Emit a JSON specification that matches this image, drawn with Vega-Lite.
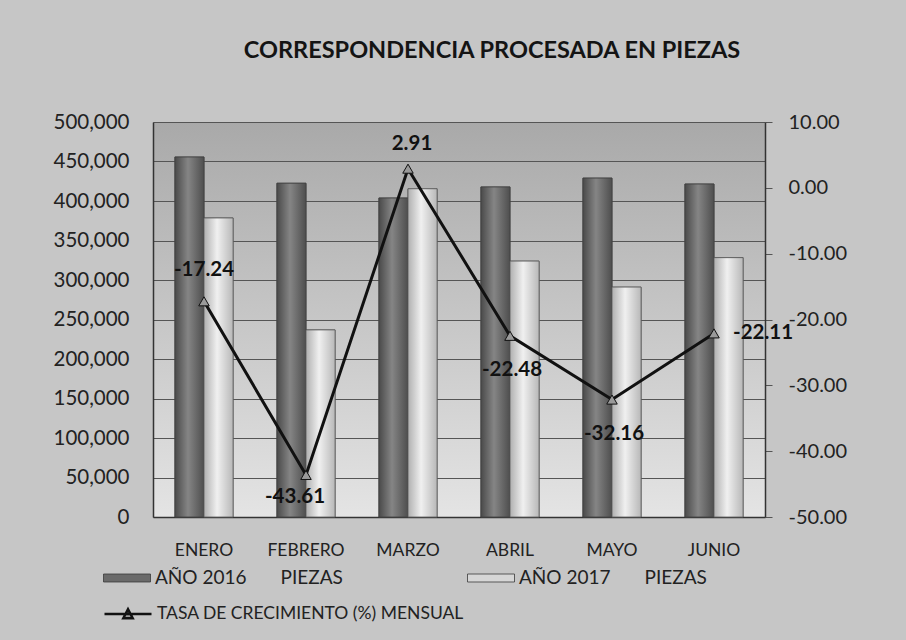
{
  "$schema": "https://vega.github.io/schema/vega-lite/v6.json",
  "autosize": {"type": "none"},
  "padding": {"left": 153, "top": 122, "right": 141, "bottom": 123},
  "width": 612,
  "height": 395,
  "background": "#c6c6c6",
  "title": {
    "text": "CORRESPONDENCIA PROCESADA EN PIEZAS",
    "font": "Lato",
    "fontSize": 23.5,
    "fontWeight": "bold",
    "color": "#141414",
    "anchor": "middle",
    "dx": 33,
    "offset": 50
  },
  "config": {
    "locale": {"number": {"decimal": ".", "thousands": ",", "grouping": [3], "currency": ["$", ""], "minus": "-"}},
    "view": {
      "stroke": null,
      "fill": {"expr": "{gradient: 'linear', x1: 0, y1: 0, x2: 0, y2: 1, stops: [{offset: 0, color: '#a9a9a9'}, {offset: 1, color: '#e4e4e4'}]}"}
    },
    "font": "Lato",
    "axis": {"labelFont": "Lato", "labelColor": "#222222"}
  },
  "datasets": {
    "piezas": [
      {"mes": "ENERO", "serie": "AÑO 2016\u00a0\u00a0\u00a0\u00a0\u00a0\u00a0\u00a0PIEZAS", "piezas": 455700},
      {"mes": "ENERO", "serie": "AÑO 2017\u00a0\u00a0\u00a0\u00a0\u00a0\u00a0\u00a0PIEZAS", "piezas": 378500},
      {"mes": "FEBRERO", "serie": "AÑO 2016\u00a0\u00a0\u00a0\u00a0\u00a0\u00a0\u00a0PIEZAS", "piezas": 422500},
      {"mes": "FEBRERO", "serie": "AÑO 2017\u00a0\u00a0\u00a0\u00a0\u00a0\u00a0\u00a0PIEZAS", "piezas": 236800},
      {"mes": "MARZO", "serie": "AÑO 2016\u00a0\u00a0\u00a0\u00a0\u00a0\u00a0\u00a0PIEZAS", "piezas": 403800},
      {"mes": "MARZO", "serie": "AÑO 2017\u00a0\u00a0\u00a0\u00a0\u00a0\u00a0\u00a0PIEZAS", "piezas": 415500},
      {"mes": "ABRIL", "serie": "AÑO 2016\u00a0\u00a0\u00a0\u00a0\u00a0\u00a0\u00a0PIEZAS", "piezas": 417800},
      {"mes": "ABRIL", "serie": "AÑO 2017\u00a0\u00a0\u00a0\u00a0\u00a0\u00a0\u00a0PIEZAS", "piezas": 323900},
      {"mes": "MAYO", "serie": "AÑO 2016\u00a0\u00a0\u00a0\u00a0\u00a0\u00a0\u00a0PIEZAS", "piezas": 429000},
      {"mes": "MAYO", "serie": "AÑO 2017\u00a0\u00a0\u00a0\u00a0\u00a0\u00a0\u00a0PIEZAS", "piezas": 291000},
      {"mes": "JUNIO", "serie": "AÑO 2016\u00a0\u00a0\u00a0\u00a0\u00a0\u00a0\u00a0PIEZAS", "piezas": 421500},
      {"mes": "JUNIO", "serie": "AÑO 2017\u00a0\u00a0\u00a0\u00a0\u00a0\u00a0\u00a0PIEZAS", "piezas": 328300}
    ],
    "tasa": [
      {"mes": "ENERO", "tasa": -17.24},
      {"mes": "FEBRERO", "tasa": -43.61},
      {"mes": "MARZO", "tasa": 2.91},
      {"mes": "ABRIL", "tasa": -22.48},
      {"mes": "MAYO", "tasa": -32.16},
      {"mes": "JUNIO", "tasa": -22.11}
    ]
  },
  "encoding": {
    "x": {
      "field": "mes", "type": "nominal",
      "sort": ["ENERO", "FEBRERO", "MARZO", "ABRIL", "MAYO", "JUNIO"],
      "scale": {"paddingInner": 0.43, "paddingOuter": 0.215},
      "axis": {
        "title": null, "labelAngle": 0, "labelFontSize": 17.5, "labelPadding": 24,
        "ticks": false, "domainColor": "#333333", "domainWidth": 1.5
      }
    }
  },
  "layer": [
    {
      "data": {"name": "piezas"},
      "encoding": {
        "xOffset": {"field": "serie", "type": "nominal"},
        "y": {
          "field": "piezas", "type": "quantitative",
          "scale": {"domain": [0, 500000], "nice": false},
          "axis": {
            "title": null, "values": [0, 50000, 100000, 150000, 200000, 250000, 300000, 350000, 400000, 450000, 500000],
            "format": ",.0f", "labelFontSize": 20.5, "labelPadding": 24, "ticks": false,
            "domainColor": "#333333", "domainWidth": 1.5,
            "grid": true, "gridColor": "#555555", "gridWidth": 1
          }
        }
      },
      "layer": [
        {
          "mark": {"type": "bar", "stroke": "#4a4a4a", "strokeWidth": 0.8},
          "encoding": {
            "fill": {
              "field": "serie", "type": "nominal",
              "scale": {
                "domain": ["AÑO 2016\u00a0\u00a0\u00a0\u00a0\u00a0\u00a0\u00a0PIEZAS", "AÑO 2017\u00a0\u00a0\u00a0\u00a0\u00a0\u00a0\u00a0PIEZAS"],
                "range": ["#6a6a6a", "#d6d6d6"]
              },
              "legend": {
                "title": null, "orient": "none", "legendX": -50, "legendY": 432,
                "direction": "horizontal", "columns": 2, "columnPadding": 122,
                "symbolType": "M-1,-0.17H1V0.17H-1Z", "symbolSize": 2209,
                "symbolStrokeColor": "#3a3a3a", "symbolStrokeWidth": 0.8,
                "labelFontSize": 19, "labelColor": "#222222", "labelOffset": 4, "labelLimit": 400
              }
            }
          }
        },
        {
          "transform": [{"filter": "indexof(datum.serie, '2016') >= 0"}],
          "mark": {"type": "bar", "stroke": "#404040", "strokeWidth": 0.8,
            "color": {"gradient": "linear", "x1": 0, "y1": 0, "x2": 1, "y2": 0,
              "stops": [{"offset": 0, "color": "#4a4a4a"}, {"offset": 0.45, "color": "#858585"}, {"offset": 1, "color": "#4e4e4e"}]}}
        },
        {
          "transform": [{"filter": "indexof(datum.serie, '2017') >= 0"}],
          "mark": {"type": "bar", "stroke": "#5a5a5a", "strokeWidth": 0.8,
            "color": {"gradient": "linear", "x1": 0, "y1": 0, "x2": 1, "y2": 0,
              "stops": [{"offset": 0, "color": "#b0b0b0"}, {"offset": 0.45, "color": "#f0f0f0"}, {"offset": 1, "color": "#b8b8b8"}]}}
        }
      ]
    },
    {
      "data": {"name": "tasa"},
      "encoding": {
        "y": {
          "field": "tasa", "type": "quantitative",
          "scale": {"domain": [-50, 10], "nice": false},
          "axis": {
            "title": null, "orient": "right", "values": [-50, -40, -30, -20, -10, 0, 10],
            "format": ".2f", "labelFontSize": 20, "labelPadding": 16, "tickSize": 7,
            "tickColor": "#555555", "domainColor": "#333333", "domainWidth": 1.5, "grid": false
          }
        }
      },
      "layer": [
        {
          "mark": {"type": "line", "strokeWidth": 3, "point": {"shape": "triangle-up", "size": 110, "filled": true, "fill": "#9a9a9a", "stroke": "#555555", "strokeWidth": 1}},
          "encoding": {
            "stroke": {
              "datum": "TASA DE CRECIMIENTO (%) MENSUAL",
              "scale": {"range": ["#111111"]},
              "legend": {
                "title": null, "orient": "none", "legendX": -50, "legendY": 467,
                "symbolType": "M-1,0H1M-0.2,0.18L0,-0.2L0.2,0.18Z", "symbolSize": 2209,
                "symbolFillColor": "#9a9a9a", "symbolStrokeWidth": 2.5,
                "labelFontSize": 17.5, "labelColor": "#222222", "labelOffset": 4, "labelLimit": 400
              }
            }
          }
        },
        {
          "transform": [{"filter": "datum.mes === 'ENERO'"}],
          "mark": {"type": "text", "fontSize": 20.5, "fontWeight": "bold", "dy": -31, "color": "#111111"},
          "encoding": {"text": {"field": "tasa", "type": "quantitative", "format": ".2f"}}
        },
        {
          "transform": [{"filter": "datum.mes === 'MARZO'"}],
          "mark": {"type": "text", "fontSize": 20.5, "fontWeight": "bold", "dy": -25, "dx": 4, "color": "#111111"},
          "encoding": {"text": {"field": "tasa", "type": "quantitative", "format": ".2f"}}
        },
        {
          "transform": [{"filter": "datum.mes === 'FEBRERO'"}],
          "mark": {"type": "text", "fontSize": 20.5, "fontWeight": "bold", "dy": 22, "dx": -11, "color": "#111111"},
          "encoding": {"text": {"field": "tasa", "type": "quantitative", "format": ".2f"}}
        },
        {
          "transform": [{"filter": "datum.mes === 'ABRIL' || datum.mes === 'MAYO'"}],
          "mark": {"type": "text", "fontSize": 20.5, "fontWeight": "bold", "dy": 34, "dx": 2, "color": "#111111"},
          "encoding": {"text": {"field": "tasa", "type": "quantitative", "format": ".2f"}}
        },
        {
          "transform": [{"filter": "datum.mes === 'JUNIO'"}],
          "mark": {"type": "text", "fontSize": 20.5, "fontWeight": "bold", "align": "left", "dx": 19, "color": "#111111"},
          "encoding": {"text": {"field": "tasa", "type": "quantitative", "format": ".2f"}}
        }
      ]
    }
  ],
  "resolve": {"scale": {"y": "independent"}}
}
